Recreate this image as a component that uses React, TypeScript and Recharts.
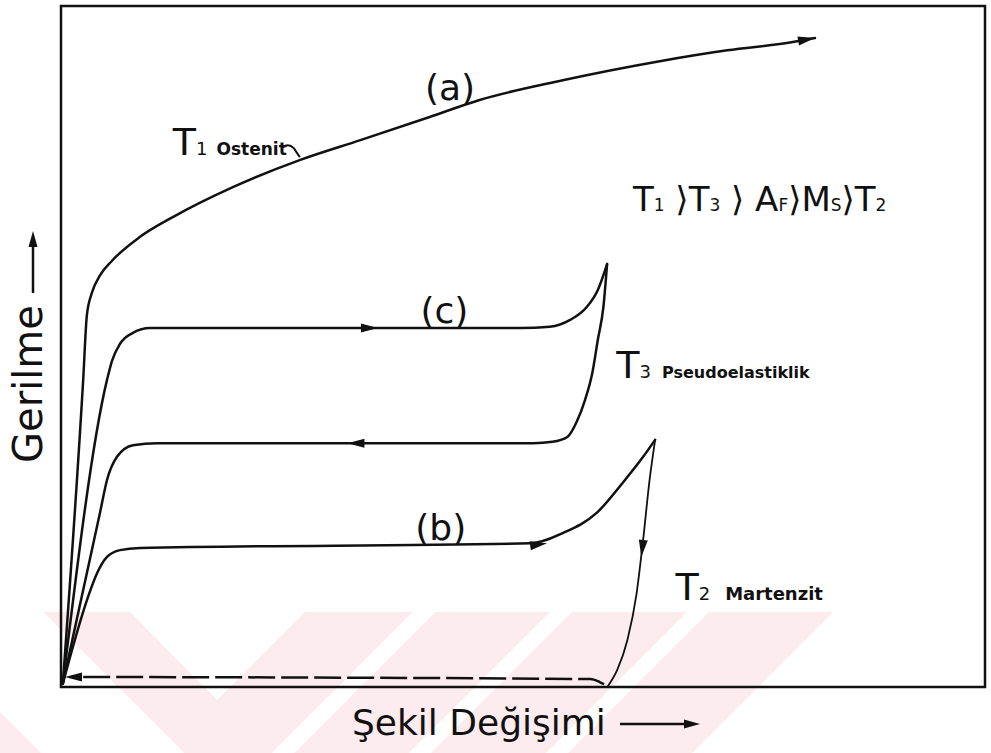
import React from "react"
import { ComposedChart, Line, Scatter, XAxis, YAxis, ReferenceArea } from "recharts"

const W = 991
const H = 753
const FONT = "'DejaVu Sans', 'Liberation Sans', sans-serif"
const INK = "#111111"
const PINK = "#fdecef"

// Schematic stress–strain curves, strain and stress both on a 0–100 scale.
// (a) T1, austenite: loads straight up and keeps hardening
const curveA = [
  { x: 0.2, y: 0.5 }, { x: 2.4, y: 45.1 }, { x: 2.8, y: 54.6 }, { x: 3.35, y: 57.9 },
  { x: 4.2, y: 60.4 }, { x: 5.6, y: 62.7 }, { x: 8.55, y: 66.1 }, { x: 12.1, y: 69.0 },
  { x: 18.6, y: 73.4 }, { x: 25.9, y: 77.4 }, { x: 32.4, y: 80.3 }, { x: 39.9, y: 83.7 },
  { x: 45.3, y: 86.2 }, { x: 54.3, y: 89.1 }, { x: 64.8, y: 91.9 }, { x: 72.1, y: 93.5 },
  { x: 79.2, y: 94.7 }, { x: 81.6, y: 95.3 },
]

// (c) T3, pseudoelastic loop: upper (loading) plateau
const curveCLoad = [
  { x: 0.2, y: 0.5 }, { x: 4.98, y: 45.1 }, { x: 5.52, y: 47.9 }, { x: 6.39, y: 50.4 },
  { x: 7.79, y: 52.0 }, { x: 9.63, y: 52.7 }, { x: 49.7, y: 52.7 }, { x: 52.9, y: 52.9 },
  { x: 55.1, y: 53.9 }, { x: 56.9, y: 55.8 }, { x: 58.1, y: 58.3 }, { x: 59.1, y: 62.1 },
]

// (c) lower (unloading) plateau, stored in rising strain order
const curveCUnload = [
  { x: 0.2, y: 0.5 }, { x: 4.22, y: 25.6 }, { x: 4.98, y: 30.4 }, { x: 6.06, y: 33.8 },
  { x: 7.79, y: 35.5 }, { x: 10.4, y: 35.8 }, { x: 51.1, y: 35.8 }, { x: 53.2, y: 36.0 },
  { x: 54.8, y: 36.7 }, { x: 55.8, y: 38.9 }, { x: 56.7, y: 42.1 }, { x: 57.5, y: 46.1 },
  { x: 58.1, y: 51.0 }, { x: 58.7, y: 55.8 }, { x: 59.1, y: 62.1 },
]

// (b) T2, martensite: reorientation plateau
const curveBLoad = [
  { x: 0.2, y: 0.5 }, { x: 2.92, y: 13.2 }, { x: 3.9, y: 16.7 }, { x: 4.98, y: 19.1 },
  { x: 6.39, y: 20.1 }, { x: 8.55, y: 20.4 }, { x: 50.8, y: 21.1 }, { x: 54.3, y: 22.6 },
  { x: 58.0, y: 25.6 }, { x: 60.8, y: 30.0 }, { x: 63.0, y: 33.8 }, { x: 64.3, y: 36.3 },
]

// (b) elastic unloading leaves residual strain
const curveBUnload = [
  { x: 59.2, y: 0.15 }, { x: 60.2, y: 2.5 }, { x: 61.3, y: 6.9 }, { x: 62.3, y: 13.8 },
  { x: 63.0, y: 21.6 }, { x: 63.7, y: 30.4 }, { x: 64.3, y: 36.3 },
]

// heating above AF recovers the strain (dashed return)
const shapeRecovery = [
  { x: 2.4, y: 1.47 }, { x: 57.3, y: 1.17 }, { x: 58.3, y: 0.73 }, { x: 59.1, y: 0.15 },
]

// arrowheads: tip position and heading in degrees (0 = to the right)
const arrowTips = [
  { x: 81.6, y: 95.3, angle: -10 },
  { x: 34.3, y: 52.7, angle: 0 },
  { x: 31.0, y: 35.8, angle: 180 },
  { x: 52.6, y: 21.1, angle: -8 },
  { x: 62.8, y: 19.1, angle: 97 },
  { x: 0.43, y: 1.47, angle: 180 },
]

const labelAnchors = [
  { x: 42.1, y: 86.2, id: "a" },
  { x: 41.5, y: 53.5, id: "c" },
  { x: 41.1, y: 21.6, id: "b" },
  { x: 12.1, y: 78.1, id: "T1" },
  { x: 61.9, y: 69.9, id: "order" },
  { x: 60.1, y: 45.4, id: "T3" },
  { x: 66.5, y: 12.8, id: "T2" },
]

const renderArrow = (props: any) => {
  const { cx, cy, payload } = props
  return (
    <polygon
      points="0,0 -17,-4.5 -17,4.5"
      fill={INK}
      transform={`translate(${cx},${cy}) rotate(${payload.angle})`}
    />
  )
}

const tempLabel = (cx: number, cy: number, digit: string, word: string, gap: number, wordSize: number) => (
  <text x={cx} y={cy} fontFamily={FONT} fill={INK} style={{ whiteSpace: "pre" }}>
    <tspan fontSize={38}>T</tspan>
    <tspan fontSize={18}>{digit}</tspan>
    <tspan fontSize={wordSize} fontWeight="bold" dx={gap}>{word}</tspan>
  </text>
)

const renderLabel = (props: any) => {
  const { cx, cy, payload } = props
  switch (payload.id) {
    case "a":
    case "b":
    case "c":
      return (
        <text x={cx} y={cy} textAnchor="middle" fontSize={36} fontFamily={FONT} fill={INK}>
          ({payload.id})
        </text>
      )
    case "T1":
      return (
        <g>
          {tempLabel(cx, cy, "1", "Ostenit", 9, 17)}
          <path
            d={`M${cx + 110},${cy - 8} C${cx + 114},${cy - 11} ${cx + 118},${cy - 10} ${cx + 121},${cy - 7} L${cx + 127},${cy + 2}`}
            fill="none"
            stroke={INK}
            strokeWidth={2}
          />
        </g>
      )
    case "T3":
      return tempLabel(cx, cy, "3", "Pseudoelastiklik", 11, 16)
    case "T2":
      return tempLabel(cx, cy, "2", "Martenzit", 15, 18)
    case "order":
      return (
        <text x={cx} y={cy} fontFamily={FONT} fill={INK} fontSize={34} style={{ whiteSpace: "pre" }}>
          <tspan>T</tspan>
          <tspan fontSize={17}>1</tspan>
          <tspan> ⟩T</tspan>
          <tspan fontSize={17}>3</tspan>
          <tspan> ⟩ A</tspan>
          <tspan fontSize={17}>F</tspan>
          <tspan>⟩M</tspan>
          <tspan fontSize={17}>S</tspan>
          <tspan>⟩T</tspan>
          <tspan fontSize={17}>2</tspan>
        </text>
      )
    default:
      return <g />
  }
}

const renderStrainTitle = () => (
  <g>
    <text x={352} y={735} fontSize={36} fontFamily={FONT} fill={INK}>
      Şekil Değişimi
    </text>
    <line x1={620} y1={724} x2={688} y2={724} stroke={INK} strokeWidth={2.5} />
    <polygon points="700,724 684,719.5 684,728.5" fill={INK} />
  </g>
)

const renderStressTitle = () => (
  <g>
    <text
      x={42}
      y={384}
      transform="rotate(-90 42 384)"
      textAnchor="middle"
      fontSize={40}
      fontFamily={FONT}
      fill={INK}
    >
      Gerilme
    </text>
    <line x1={33} y1={293} x2={33} y2={244} stroke={INK} strokeWidth={2.5} />
    <polygon points="33,231 28.5,247 37.5,247" fill={INK} />
  </g>
)

// faint chevron watermark along the bottom of the page
function Watermark() {
  return (
    <svg width={W} height={H} style={{ position: "absolute", left: 0, top: 0 }}>
      <polygon points="0,612 833,612 692,753 0,753" fill={PINK} />
      <polygon points="0,612 43,612 184,753 41,753 0,712" fill="#fff" />
      <polygon points="130,612 305,612 217,700" fill="#fff" />
      {[413, 550, 687].map((x) => (
        <polygon key={x} points={`${x},612 ${x + 22},612 ${x + 22 - 141},753 ${x - 141},753`} fill="#fff" />
      ))}
    </svg>
  )
}

const lineProps = {
  type: "monotone" as const,
  dataKey: "y",
  stroke: INK,
  strokeWidth: 2.5,
  dot: false,
  activeDot: false,
  isAnimationActive: false,
  strokeLinecap: "round" as const,
}

export default function App() {
  return (
    <div style={{ position: "absolute", left: 0, top: 0, width: W, height: H, background: "#fff" }}>
      <Watermark />
      <div style={{ position: "absolute", left: 0, top: 0 }}>
        <ComposedChart width={W} height={H} margin={{ top: 6, right: 6, bottom: 6, left: 0 }}>
          <XAxis
            type="number"
            dataKey="x"
            domain={[0, 100]}
            tick={false}
            tickLine={false}
            axisLine={false}
            height={60}
            label={renderStrainTitle}
          />
          <YAxis
            type="number"
            dataKey="y"
            domain={[0, 100]}
            tick={false}
            tickLine={false}
            axisLine={false}
            width={61}
            label={renderStressTitle}
          />
          <ReferenceArea x1={0} x2={100} y1={0} y2={100} fill="none" stroke={INK} strokeWidth={2.5} />
          <Line {...lineProps} data={curveA} />
          <Line {...lineProps} data={curveCLoad} />
          <Line {...lineProps} data={curveCUnload} />
          <Line {...lineProps} data={curveBLoad} />
          <Line {...lineProps} data={curveBUnload} strokeWidth={1.8} />
          <Line {...lineProps} data={shapeRecovery} strokeDasharray="27 6" strokeLinecap="butt" />
          <Scatter data={arrowTips} dataKey="y" shape={renderArrow} isAnimationActive={false} />
          <Scatter data={labelAnchors} dataKey="y" shape={renderLabel} isAnimationActive={false} />
        </ComposedChart>
      </div>
    </div>
  )
}
